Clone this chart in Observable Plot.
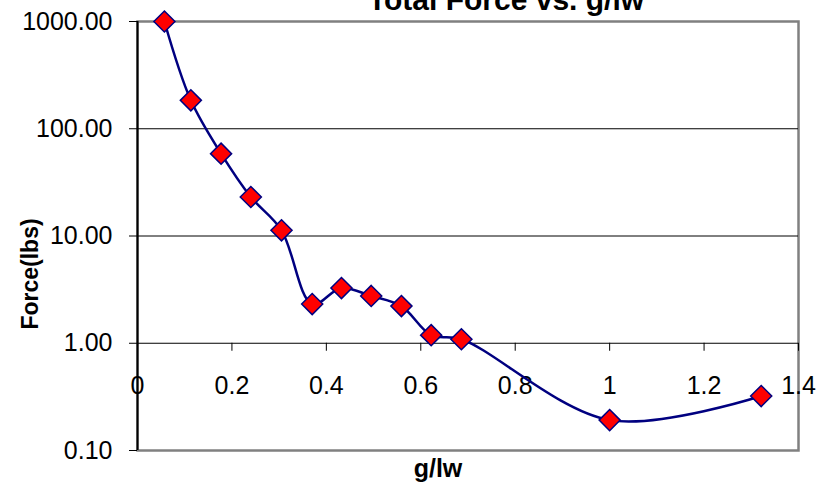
<!DOCTYPE html>
<html>
<head>
<meta charset="utf-8">
<script src="https://cdn.jsdelivr.net/npm/d3@7"></script>
<script src="https://cdn.jsdelivr.net/npm/@observablehq/plot@0.6"></script>
<style>
  html, body { margin: 0; padding: 0; background: #fff; }
  #chart svg { display: block; overflow: hidden; }
</style>
</head>
<body>
<div id="chart"></div>
<script>
const title = "Total Force vs. g/lw";
const xLabel = "g/lw";
const yLabel = "Force(lbs)";
const gw = [0.057, 0.113, 0.177, 0.240, 0.305, 0.370, 0.432, 0.495, 0.559, 0.622, 0.686, 1.0, 1.321];
const force = [1000, 184, 58.6, 23.1, 11.3, 2.32, 3.27, 2.76, 2.22, 1.19, 1.09, 0.192, 0.322];
const xTicks = [0, 0.2, 0.4, 0.6, 0.8, 1, 1.2, 1.4];
const xTickLabels = ["0", "0.2", "0.4", "0.6", "0.8", "1", "1.2", "1.4"];
const yTicks = [0.1, 1, 10, 100, 1000];
const yGrid = [10, 100];
const xAxisAt = 1;

const data = gw.map((x, i) => ({x, y: force[i]}));
const xt = xTicks.map((v, i) => ({v, label: xTickLabels[i]}));

const chart = Plot.plot({
  width: 827,
  height: 491,
  marginLeft: 137,
  marginRight: 29,
  marginTop: 21,
  marginBottom: 41,
  style: {fontFamily: "'Liberation Sans', Arial, sans-serif", background: "#fff", color: "#000"},
  x: {domain: [0, 1.4]},
  y: {type: "log", domain: [0.1, 1000]},
  marks: [
    Plot.frame({stroke: "#808080", strokeWidth: 2.5}),
    Plot.ruleY(yGrid, {stroke: "#000", strokeWidth: 1}),
    Plot.ruleY([xAxisAt], {stroke: "#000", strokeWidth: 1.2}),
    Plot.ruleX(xt, {x: "v", y1: xAxisAt, y2: xAxisAt, insetBottom: -8, stroke: "#000", strokeWidth: 1}),
    Plot.text(xt, {x: "v", y: xAxisAt, text: "label", dy: 43, fontSize: 25, fill: "#000"}),
    Plot.ruleX([0], {stroke: "#000", strokeWidth: 2}),
    Plot.axisY({ticks: yTicks, tickFormat: ".2f", tickSize: 8, tickPadding: 17, fontSize: 25, label: null}),
    Plot.axisX({ticks: [], label: null, tickSize: 0}),
    Plot.line(data, {x: "x", y: "y", curve: "catmull-rom", stroke: "#000080", strokeWidth: 2.5}),
    Plot.dot(data, {x: "x", y: "y", symbol: "diamond2", r: 9.5, fill: "#ff0000", stroke: "#000080", strokeWidth: 1.5}),
    Plot.text([yLabel], {frameAnchor: "left", textAnchor: "middle", dx: -107, dy: 38, rotate: -90, fontSize: 23, fontWeight: "bold", fill: "#000"}),
    Plot.text([xLabel], {frameAnchor: "bottom", dx: -30, dy: 26, fontSize: 25, fontWeight: "bold", fill: "#000"}),
    Plot.text([title], {frameAnchor: "top", dx: 38, dy: -33, fontSize: 30, fontWeight: "bold", fill: "#000"})
  ]
});
document.getElementById("chart").appendChild(chart);
</script>
</body>
</html>
